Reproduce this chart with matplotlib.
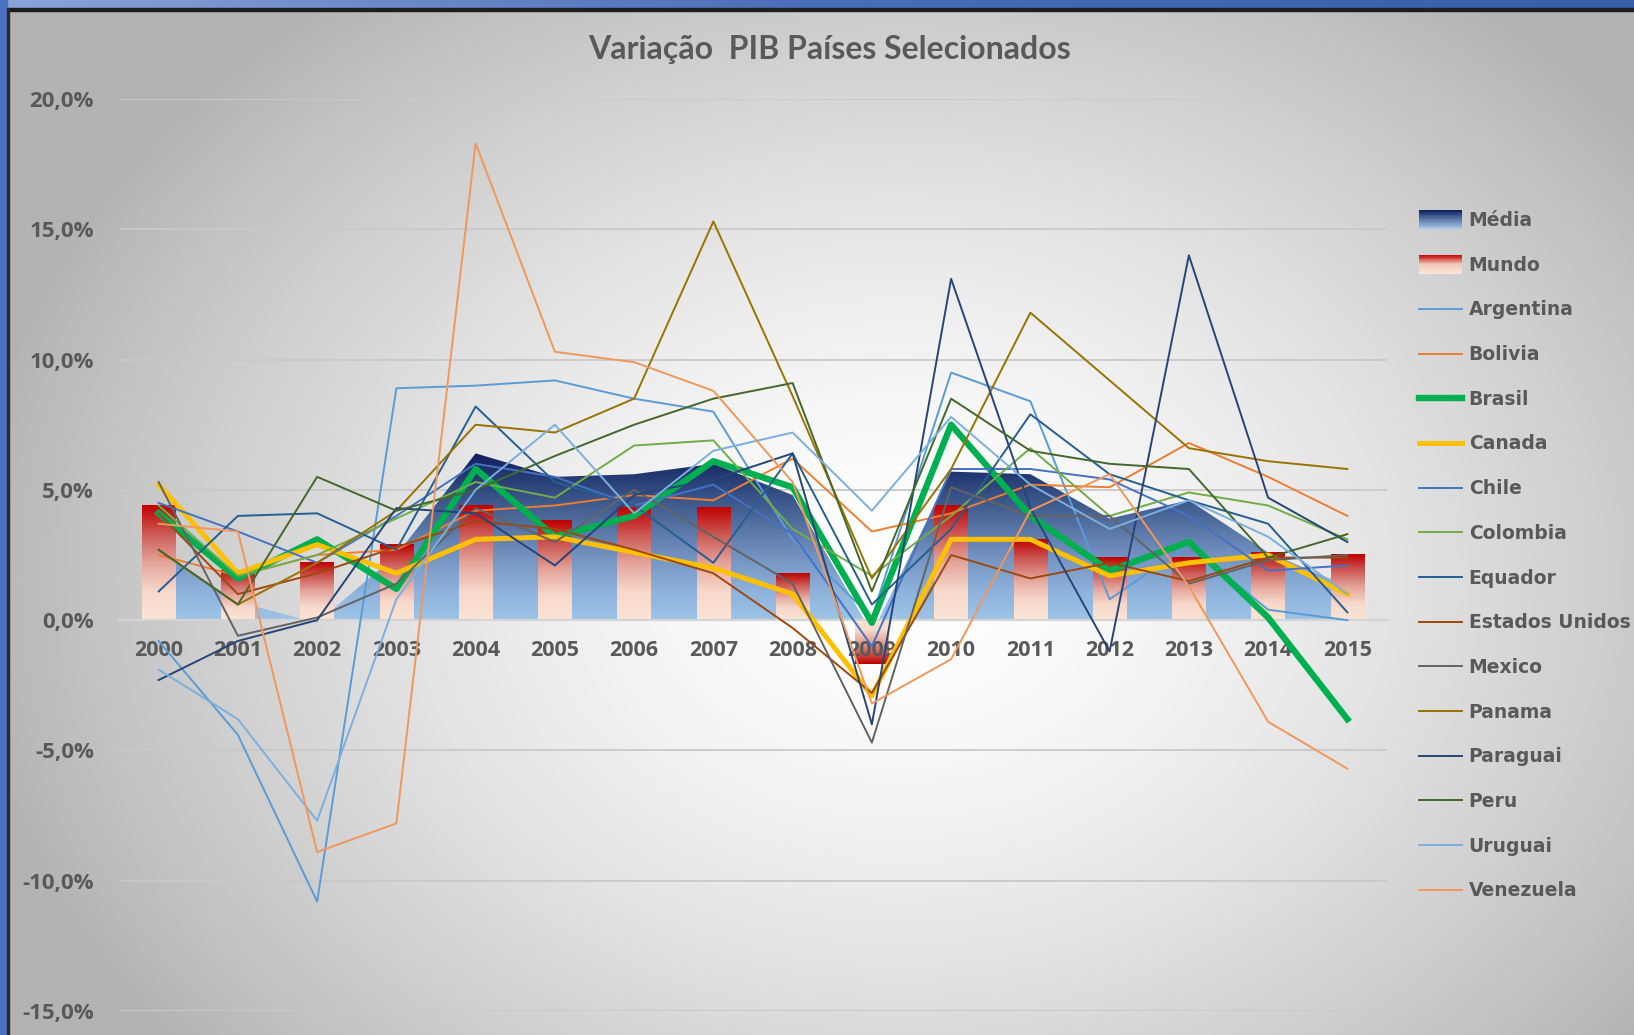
import numpy as np
import matplotlib
matplotlib.use('Agg')
import matplotlib.pyplot as plt
from matplotlib.colors import LinearSegmentedColormap
from matplotlib.patches import Rectangle, Patch
from matplotlib.lines import Line2D
from matplotlib.legend_handler import HandlerBase
from matplotlib import font_manager

# Data (% GDP growth)
years = ['2000', '2001', '2002', '2003', '2004', '2005', '2006', '2007',
         '2008', '2009', '2010', '2011', '2012', '2013', '2014', '2015']
media = [2.6, 0.7, -0.1, 2.5, 6.4, 5.5, 5.6, 6.0, 4.8, -0.5, 5.7, 5.6, 3.9, 4.6, 2.6, 1.3]
mundo = [4.4, 1.9, 2.2, 2.9, 4.4, 3.8, 4.3, 4.3, 1.8, -1.7, 4.4, 3.1, 2.4, 2.4, 2.6, 2.5]
argentina = [-0.8, -4.4, -10.8, 8.9, 9.0, 9.2, 8.5, 8.0, 3.1, 0.1, 9.5, 8.4, 0.8, 2.9, 0.4, 0.0]
bolivia = [2.5, 1.7, 2.5, 2.7, 4.2, 4.4, 4.8, 4.6, 6.2, 3.4, 4.1, 5.2, 5.1, 6.8, 5.5, 4.0]
brasil = [4.1, 1.6, 3.1, 1.2, 5.8, 3.2, 4.0, 6.1, 5.1, -0.1, 7.5, 4.0, 1.9, 3.0, 0.1, -3.8]
canada = [5.2, 1.8, 2.9, 1.8, 3.1, 3.2, 2.6, 2.0, 1.0, -2.9, 3.1, 3.1, 1.7, 2.2, 2.5, 1.0]
chile = [4.5, 3.4, 2.2, 4.0, 6.0, 5.5, 4.4, 5.2, 3.3, -1.0, 5.8, 5.8, 5.4, 4.0, 1.9, 2.1]
colombia = [4.4, 1.7, 2.5, 3.9, 5.3, 4.7, 6.7, 6.9, 3.5, 1.7, 4.0, 6.6, 4.0, 4.9, 4.4, 3.1]
equador = [1.1, 4.0, 4.1, 2.7, 8.2, 5.3, 4.4, 2.2, 6.4, 0.6, 3.5, 7.9, 5.6, 4.6, 3.7, 0.3]
eua = [4.1, 1.0, 1.8, 2.8, 3.8, 3.5, 2.7, 1.8, -0.3, -2.8, 2.5, 1.6, 2.2, 1.5, 2.4, 2.4]
mexico = [5.3, -0.6, 0.1, 1.4, 4.3, 3.0, 5.0, 3.2, 1.4, -4.7, 5.1, 4.0, 4.0, 1.4, 2.3, 2.5]
panama = [2.7, 0.6, 2.2, 4.2, 7.5, 7.2, 8.5, 15.3, 8.6, 1.6, 5.8, 11.8, 9.2, 6.6, 6.1, 5.8]
paraguai = [-2.3, -0.8, 0.0, 4.3, 4.1, 2.1, 4.8, 5.4, 6.4, -4.0, 13.1, 4.3, -1.2, 14.0, 4.7, 3.0]
peru = [2.7, 0.6, 5.5, 4.2, 5.0, 6.3, 7.5, 8.5, 9.1, 1.1, 8.5, 6.5, 6.0, 5.8, 2.4, 3.3]
uruguai = [-1.9, -3.8, -7.7, 0.8, 5.0, 7.5, 4.1, 6.5, 7.2, 4.2, 7.8, 5.2, 3.5, 4.6, 3.2, 1.0]
venezuela = [3.7, 3.4, -8.9, -7.8, 18.3, 10.3, 9.9, 8.8, 5.3, -3.2, -1.5, 4.2, 5.6, 1.3, -3.9, -5.7]

country_names = ['Argentina', 'Bolivia', 'Brasil', 'Canada', 'Chile', 'Colombia', 'Equador',
                 'Estados Unidos', 'Mexico', 'Panama', 'Paraguai', 'Peru', 'Uruguai', 'Venezuela']
country_values = [argentina, bolivia, brasil, canada, chile, colombia, equador,
                  eua, mexico, panama, paraguai, peru, uruguai, venezuela]
country_colors = ['#5B9BD5', '#ED7D31', '#00B050', '#FFC000', '#4472C4', '#70AD47', '#255E91',
                  '#9E480E', '#636363', '#997300', '#264478', '#43682B', '#7CAFDD', '#F1975A']
country_widths = [1.4, 1.4, 4.6, 3.6, 1.4, 1.4, 1.4, 1.4, 1.4, 1.4, 1.4, 1.4, 1.4, 1.4]

y_ticks = [-15, -10, -5, 0, 5, 10, 15, 20]
y_labels = ['-15,0%', '-10,0%', '-5,0%', '0,0%', '5,0%', '10,0%', '15,0%', '20,0%']

# fonts
installed = {f.name for f in font_manager.fontManager.ttflist}
title_font = 'Lato' if 'Lato' in installed else 'DejaVu Sans'
tick_font = 'Open Sans' if 'Open Sans' in installed else 'DejaVu Sans'
text_gray = '#595959'

W, H = 1634, 1035
fig = plt.figure(figsize=(W / 100, H / 100), dpi=100)

# background: radial grey gradient
bg = fig.add_axes([0, 0, 1, 1], zorder=-10)
yy, xx = np.mgrid[0:H, 0:W]
r = np.sqrt(((xx - 900) / 820.0) ** 2 + ((yy - 580) / 640.0) ** 2)
t = np.clip(r / 1.15, 0, 1) ** 1.5
shade = 1 - 0.30 * t
bg.imshow(shade, cmap='gray', vmin=0, vmax=1, extent=(0, W, H, 0), aspect='auto',
          interpolation='bilinear')
bg.set_xlim(0, W)
bg.set_ylim(H, 0)
# window frame: blue strips top and left
frame_cm = LinearSegmentedColormap.from_list('frame', ['#8AA4D8', '#4A6DB8', '#3A5DA8'])
bg.imshow(np.linspace(0, 1, 256).reshape(1, -1), cmap=frame_cm, extent=(0, W, 8, 0),
          aspect='auto')
bg.add_patch(Rectangle((0, 8), W, 2.5, color='#1E1E1E'))
bg.add_patch(Rectangle((0, 0), 7, H, color='#4A72C0'))
bg.add_patch(Rectangle((7, 8), 2, H, color='#2A2A2A'))
bg.axis('off')

ax = fig.add_axes([119 / W, 24 / H, (1387 - 119) / W, (1011 - 99) / H])
ax.set_facecolor('none')
x = np.arange(len(years))

# gridlines
for yv in y_ticks:
    if yv != 0:
        ax.axhline(yv, color='#C9C9C9', lw=1.3, zorder=0.3)

# Média: area with vertical gradient
media_cm = LinearSegmentedColormap.from_list(
    'media', [(0.0, '#9DC3E6'), (0.08, '#9DC3E6'), (0.22, '#8FB4DD'), (0.43, '#7392C0'),
              (0.72, '#3F5A8D'), (1.0, '#0F1F5C')])
area = ax.fill_between(x, media, 0, color='none', lw=0)
grad = np.linspace(0, 1, 256).reshape(-1, 1)
im = ax.imshow(grad, cmap=media_cm, origin='lower', aspect='auto', zorder=1,
               extent=(x[0], x[-1], min(media), max(media)), interpolation='bilinear')
im.set_clip_path(area.get_paths()[0], ax.transData)

# Mundo: columns, red at value end fading to pale
mundo_cm = LinearSegmentedColormap.from_list(
    'mundo', [(0.0, '#C00000'), (0.25, '#CC5A55'), (0.5, '#E4A59C'), (0.75, '#F7D8CA'),
              (1.0, '#FBE5D6')])
bars = ax.bar(x, mundo, width=0.42, color='none', edgecolor='none', zorder=1.2)
for b in bars:
    x0, w, h = b.get_x(), b.get_width(), b.get_height()
    ax.imshow(grad, cmap=mundo_cm, origin='upper', aspect='auto', zorder=1.2,
              extent=(x0, x0 + w, 0, h), interpolation='bilinear')

# country lines
for i, (vals, col, lw) in enumerate(zip(country_values, country_colors, country_widths)):
    ax.plot(x, vals, color=col, lw=lw, zorder=3 + i, solid_joinstyle='round')

ax.set_xlim(-0.5, len(years) - 0.5)
ax.set_ylim(-15, 20)

ax.spines[['top', 'right', 'left']].set_visible(False)
ax.spines['bottom'].set_position(('data', 0))
ax.spines['bottom'].set_color('#D4D4D4')
ax.spines['bottom'].set_linewidth(1.6)
ax.spines['bottom'].set_zorder(1.3)
ax.xaxis.set_zorder(1.5)

ax.set_xticks(x, years)
ax.set_yticks(y_ticks, y_labels)
ax.tick_params(axis='x', length=0, pad=14.5, labelsize=15.5, labelcolor=text_gray)
ax.tick_params(axis='y', length=0, pad=18, labelsize=16, labelcolor=text_gray)
for lab in ax.get_xticklabels() + ax.get_yticklabels():
    lab.set_fontfamily(tick_font)
    lab.set_fontweight('bold')

fig.text(830 / W, 1 - 50 / H, 'Variação  PIB Países Selecionados', ha='center', va='center',
         fontsize=23, fontweight='bold', color=text_gray, family=title_font)


# legend with gradient swatches for area and columns
class GradientHandler(HandlerBase):
    def __init__(self, cmap):
        super().__init__()
        self.cmap = cmap

    def create_artists(self, legend, orig_handle, xdescent, ydescent, width, height,
                       fontsize, trans):
        n = 24
        hh = height * 1.45
        y0 = -ydescent + height / 2 - hh / 2
        arts = []
        for k in range(n):
            c = self.cmap(k / (n - 1))
            arts.append(Rectangle((-xdescent, y0 + k * hh / n), width, hh / n * 1.1,
                                  facecolor=c, edgecolor='none', transform=trans))
        return arts


media_leg_cm = LinearSegmentedColormap.from_list('ml', ['#A7C8E8', '#5A78A8', '#0F1F5C'])
mundo_leg_cm = LinearSegmentedColormap.from_list('wl', ['#FBE5D6', '#F2C7B8', '#C00000'])
media_proxy = Patch()
mundo_proxy = Patch()
handles = [media_proxy, mundo_proxy] + [
    Line2D([], [], color=c, lw=lw) for c, lw in zip(country_colors, country_widths)]
labels = ['Média', 'Mundo'] + country_names
leg = fig.legend(handles, labels, loc='upper left',
                 bbox_to_anchor=(1419 / W, 1 - 211 / H), frameon=False,
                 borderpad=0, borderaxespad=0, handlelength=2.3, handletextpad=0.35,
                 labelspacing=1.37,
                 prop={'family': 'DejaVu Sans', 'weight': 'bold', 'size': 13.5},
                 handler_map={media_proxy: GradientHandler(media_leg_cm),
                              mundo_proxy: GradientHandler(mundo_leg_cm)})
for txt in leg.get_texts():
    txt.set_color(text_gray)

fig.savefig('out.png', dpi=100)
